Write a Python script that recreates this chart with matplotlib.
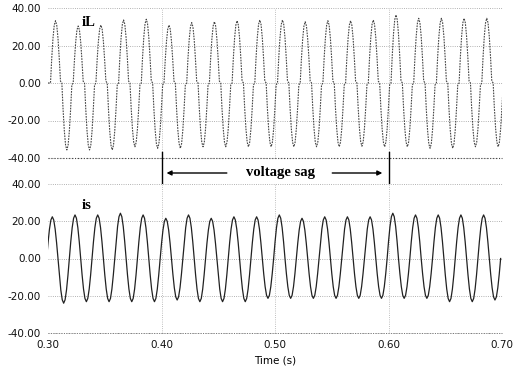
import numpy as np
import matplotlib.pyplot as plt

# 50 Hz waveforms
PERIOD = 0.02
time_ticks = [0.30, 0.40, 0.50, 0.60, 0.70]
current_ticks = [-40, -20, 0, 20, 40]
sag_start, sag_end = 0.40, 0.60

# load current iL: one cycle shape (rectifier current with short steps near zero)
iL_t0 = 0.3022
iL_phase = [0.000, 0.055, 0.110, 0.165, 0.220, 0.275, 0.330, 0.385, 0.440, 0.500,
            0.555, 0.610, 0.665, 0.720, 0.775, 0.830, 0.885, 0.940, 1.000]
iL_shape = [0.00, 0.40, 0.72, 0.93, 1.00, 0.93, 0.72, 0.40, 0.03, 0.00,
            -0.40, -0.72, -0.93, -1.00, -0.93, -0.72, -0.40, -0.03, 0.00]
iL_peaks = [33.2, 30.4, 30.9, 33.6, 34.0, 30.9, 32.2, 32.7, 33.2, 33.6,
            33.6, 32.7, 33.2, 33.2, 33.6, 36.3, 34.5, 34.5, 34.5, 34.5]
iL_troughs = [-35.7, -35.7, -35.7, -34.0, -34.8, -34.8, -34.0, -34.0, -34.0, -34.0,
              -34.0, -34.0, -34.0, -33.7, -34.0, -34.0, -34.8, -34.8, -34.0, -34.0]

# source current is: sinusoidal cycle
is_t0 = 0.2988
is_phase = [i / 16 for i in range(17)]
is_shape = [0.0, 0.383, 0.707, 0.924, 1.0, 0.924, 0.707, 0.383, 0.0,
            -0.383, -0.707, -0.924, -1.0, -0.924, -0.707, -0.383, 0.0]
is_peaks = [22.4, 23.4, 23.4, 24.3, 23.4, 21.6, 23.4, 21.6, 22.4, 22.4,
            23.4, 21.6, 22.4, 22.4, 22.4, 24.3, 23.4, 23.4, 23.4, 23.4]
is_troughs = [-24.0, -23.2, -23.2, -23.2, -23.2, -22.3, -23.2, -23.2, -23.2, -21.4,
              -21.4, -21.4, -21.4, -21.4, -21.4, -21.4, -21.4, -23.2, -23.2, -22.3]


def build(t0, phase, shape, peaks, troughs):
    t, y = [], []
    for k, (p, q) in enumerate(zip(peaks, troughs)):
        for ph, s in zip(phase, shape):
            t.append(t0 + (k + ph) * PERIOD)
            y.append(s * p if s >= 0 else s * abs(q))
    return t, y


iL_t, iL_y = build(iL_t0, iL_phase, iL_shape, iL_peaks, iL_troughs)
iL_t = [0.30] + iL_t
iL_y = [0.0] + iL_y
is_t, is_y = build(is_t0, is_phase, is_shape, is_peaks, is_troughs)

fig = plt.figure(figsize=(5.18, 3.69), dpi=100)
ax1 = fig.add_axes([48 / 518, 1 - 158 / 369, 454 / 518, 150 / 369])
ax2 = fig.add_axes([48 / 518, 1 - 333 / 369, 454 / 518, 149 / 369])

for ax in (ax1, ax2):
    ax.set_xlim(0.30, 0.70)
    ax.set_ylim(-40, 40)
    ax.set_xticks(time_ticks)
    ax.set_xticklabels([f'{v:.2f}' for v in time_ticks])
    ax.set_yticks(current_ticks)
    ax.set_yticklabels([f'{v:.2f}' for v in current_ticks])
    for s in ax.spines.values():
        s.set_visible(False)
    ax.tick_params(length=0, labelsize=7.5, pad=5, colors='#111')
    for v in current_ticks:
        ax.axhline(v, color='#999999', lw=0.6, ls=':', zorder=0, clip_on=False)
    for v in time_ticks[1:-1]:
        ax.axvline(v, color='#aaaaaa', lw=0.6, ls=':', zorder=0)

ax1.axhline(-40, color='#444444', lw=0.8, ls=':', zorder=0, clip_on=False)
ax2.axhline(-40, color='#777777', lw=0.7, ls=':', zorder=0, clip_on=False)
ax1.tick_params(labelbottom=False)

ax1.plot(iL_t, iL_y, color='#444444', lw=0.8, ls=(0, (1.5, 1)))
ax2.plot(is_t, is_y, color='#222222', lw=0.9)

serif = dict(family='Liberation Serif', weight='bold', fontsize=10.5)
ax1.text(0.336, 32, 'iL', ha='center', va='center', **serif)
ax2.text(0.334, 28.7, 'is', ha='center', va='center', **serif)

# voltage sag markers between the two panels
for v in (sag_start, sag_end):
    ax1.plot([v, v], [-37, -57], color='black', lw=1.0, clip_on=False)
ax1.text(0.505, -47.5, 'voltage sag', ha='center', va='center', **serif)
arrow = dict(arrowstyle='-|>', color='black', lw=1.0, mutation_scale=7)
ax1.annotate('', xy=(sag_start + 0.002, -48), xytext=(0.460, -48),
             arrowprops=arrow, annotation_clip=False)
ax1.annotate('', xy=(sag_end - 0.003, -48), xytext=(0.548, -48),
             arrowprops=arrow, annotation_clip=False)

ax2.set_xlabel('Time (s)', fontsize=7.5, labelpad=4)

fig.savefig('out.png', dpi=100)
